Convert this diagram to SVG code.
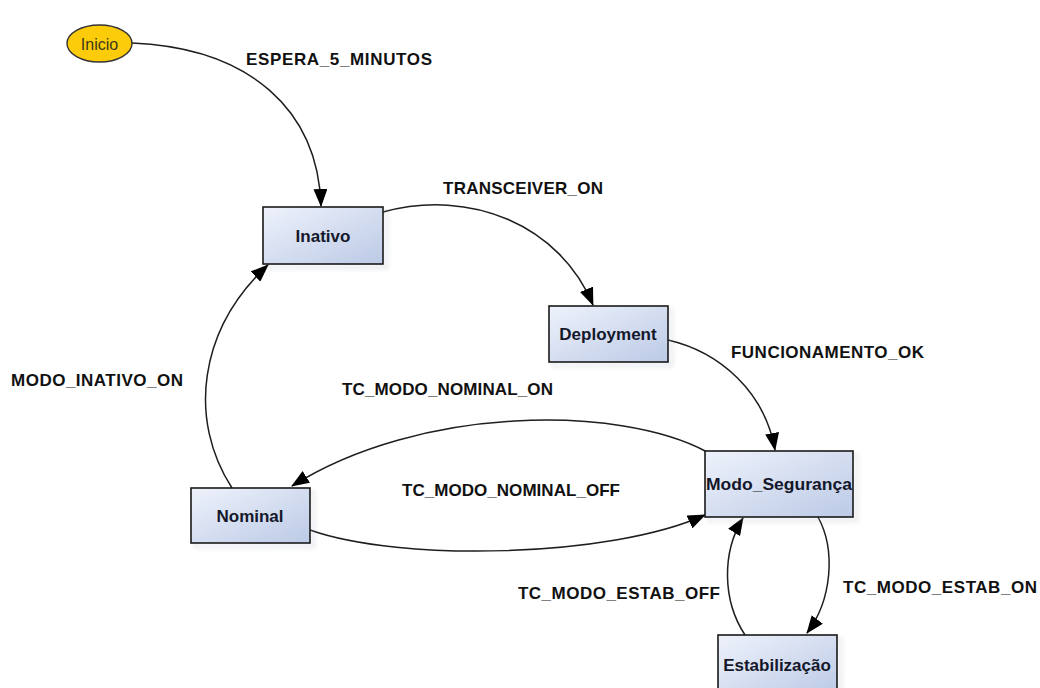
<svg xmlns="http://www.w3.org/2000/svg" width="1040" height="688" viewBox="0 0 1040 688">
<style>
.node rect{fill:url(#g);stroke:#1a1a1a;stroke-width:1.6}
.shadow{fill:#000;opacity:.18;filter:url(#blur)}
.nl{font-family:"Liberation Sans",Arial,sans-serif;font-weight:bold;font-size:17px;fill:#14182a;text-anchor:middle}
.el{font-family:"Liberation Sans",Arial,sans-serif;font-weight:bold;font-size:17px;fill:#111}
.edges path{fill:none;stroke:#1e1e1e;stroke-width:1.5;marker-end:url(#arr)}
</style>
<defs>
<linearGradient id="g" x1="0" y1="0" x2="1" y2="1">
<stop offset="0" stop-color="#eef2fb"/>
<stop offset="1" stop-color="#bccae6"/>
</linearGradient>
<filter id="blur" x="-20%" y="-20%" width="140%" height="140%"><feGaussianBlur stdDeviation="2"/></filter>
<marker id="arr" markerWidth="18" markerHeight="14" refX="17" refY="7" orient="auto" markerUnits="userSpaceOnUse">
<path d="M0,0 L18,7 L0,14 z" fill="#000"/>
</marker>
</defs>
<rect width="1040" height="688" fill="#fff"/>
<g class="edges" id="connectors">
<path d="M132,43 C250,48 318,110 321,206"/>
<path d="M383,212 C470,188 560,225 593,305"/>
<path d="M668,340 C720,352 765,392 775,450"/>
<path d="M232,488 C188,420 198,330 268,265"/>
<path d="M707,452 C620,405 420,405 292,486"/>
<path d="M310,530 C400,562 610,558 705,515"/>
<path d="M818,517 C836,550 832,600 807,633"/>
<path d="M745,635 C722,600 722,552 743,518"/>
</g>
<g id="edge-labels">
<text class="el" x="246" y="65" textLength="186" lengthAdjust="spacing">ESPERA_5_MINUTOS</text>
<text class="el" x="443" y="194" textLength="160" lengthAdjust="spacing">TRANSCEIVER_ON</text>
<text class="el" x="731" y="358" textLength="193" lengthAdjust="spacing">FUNCIONAMENTO_OK</text>
<text class="el" x="11" y="386" textLength="172" lengthAdjust="spacing">MODO_INATIVO_ON</text>
<text class="el" x="342" y="395" textLength="211" lengthAdjust="spacing">TC_MODO_NOMINAL_ON</text>
<text class="el" x="402" y="496" textLength="218" lengthAdjust="spacing">TC_MODO_NOMINAL_OFF</text>
<text class="el" x="518" y="599" textLength="202" lengthAdjust="spacing">TC_MODO_ESTAB_OFF</text>
<text class="el" x="843" y="593" textLength="194" lengthAdjust="spacing">TC_MODO_ESTAB_ON</text>
</g>
<g id="inicio">
<ellipse cx="99.5" cy="43.5" rx="32.5" ry="18.5" fill="#fccc0a" stroke="#333" stroke-width="1.4"/>
<text x="99.5" y="49.5" font-family="Liberation Sans,Arial,sans-serif" font-size="16" fill="#3a3a1a" text-anchor="middle">Inicio</text>
</g>
<g id="inativo" class="node">
<rect class="shadow" x="267" y="211" width="120" height="57"/>
<rect x="263" y="207" width="120" height="57"/>
<text class="nl" x="323" y="242">Inativo</text>
</g>
<g id="deployment" class="node">
<rect class="shadow" x="553" y="310" width="119" height="56"/>
<rect x="549" y="306" width="119" height="56"/>
<text class="nl" x="608" y="340">Deployment</text>
</g>
<g id="modo_seguranca" class="node">
<rect class="shadow" x="709" y="455" width="148" height="66"/>
<rect x="705" y="451" width="148" height="66"/>
<text class="nl" x="779" y="490" textLength="146" lengthAdjust="spacingAndGlyphs">Modo_Segurança</text>
</g>
<g id="nominal" class="node">
<rect class="shadow" x="195" y="492" width="119" height="55"/>
<rect x="191" y="488" width="119" height="55"/>
<text class="nl" x="250" y="522">Nominal</text>
</g>
<g id="estabilizacao" class="node">
<rect class="shadow" x="722" y="639" width="119" height="60"/>
<rect x="718" y="635" width="119" height="60"/>
<text class="nl" x="777" y="671">Estabilização</text>
</g>
</svg>
